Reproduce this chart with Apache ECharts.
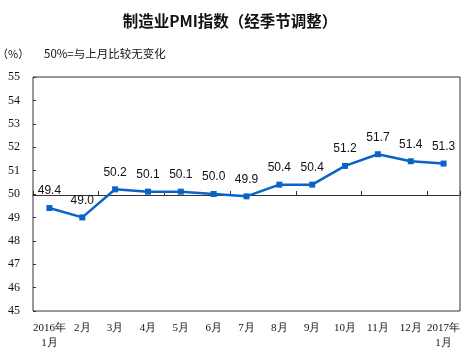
<!DOCTYPE html>
<html><head><meta charset="utf-8">
<script src="https://cdn.jsdelivr.net/npm/echarts@6/dist/echarts.min.js"></script>
<style>html,body{margin:0;padding:0;background:#fff}#c{width:474px;height:357px}</style>
</head><body><div id="c"></div>
<script>
const categories = ['2016年\n1月','2月','3月','4月','5月','6月','7月','8月','9月','10月','11月','12月','2017年\n1月'];
const pmiValues = [49.4, 49.0, 50.2, 50.1, 50.1, 50.0, 49.9, 50.4, 50.4, 51.2, 51.7, 51.4, 51.3];
const yTicks = [45,46,47,48,49,50,51,52,53,54,55];

const chart = echarts.init(document.getElementById('c'));
const gTop = 77, gH = 234, gLeft = 33, gRight = 14;
const y50 = gTop + gH * (55 - 50) / 10;
chart.setOption({
  animation: false,
  backgroundColor: '#fff',
  title: [
    { text: '制造业PMI指数（经季节调整）', left: 230, top: 13, textAlign: 'center', padding: 0,
      textStyle: { fontFamily: 'Noto Sans CJK SC', fontSize: 15.5, fontWeight: 'bold', color: '#111' } },
    { text: '（%）', left: -3, top: 48, padding: 0, textStyle: { fontFamily: 'Noto Sans CJK SC', fontSize: 11, fontWeight: 'normal', color: '#111' } },
    { text: '50%=与上月比较无变化', left: 44, top: 48, padding: 0, textStyle: { fontFamily: 'Noto Sans CJK SC', fontSize: 11.5, fontWeight: 'normal', color: '#111' } }
  ],
  grid: [
    { left: gLeft, right: gRight, top: gTop, height: gH, show: true, borderColor: '#333', borderWidth: 1 },
    { left: gLeft, right: gRight, top: y50, height: 1, show: false }
  ],
  xAxis: [
    { type: 'category', gridIndex: 0, data: categories, boundaryGap: true,
      axisLine: { show: false }, axisTick: { show: false },
      axisLabel: { fontFamily: 'Liberation Serif', fontSize: 11, color: '#111', margin: 10, interval: 0, lineHeight: 15 } },
    { type: 'category', gridIndex: 1, position: 'top', data: categories, boundaryGap: true,
      axisLine: { show: true, lineStyle: { color: '#333', width: 1 } },
      axisTick: { show: true, length: 4, lineStyle: { color: '#333' } },
      axisLabel: { show: false } }
  ],
  yAxis: [
    { type: 'value', gridIndex: 0, min: 45, max: 55, interval: 1,
      axisLine: { show: false }, splitLine: { show: false },
      axisTick: { show: true, inside: true, length: 3, lineStyle: { color: '#333' } },
      axisLabel: { fontFamily: 'Liberation Serif', fontSize: 12, color: '#111', margin: 13,
        formatter: v => yTicks.includes(v) ? String(v) : '' } },
    { type: 'value', gridIndex: 1, show: false }
  ],
  series: [{
    type: 'line', xAxisIndex: 0, yAxisIndex: 0, data: pmiValues,
    symbol: 'rect', symbolSize: 6,
    lineStyle: { color: '#0a64c8', width: 2.5 },
    itemStyle: { color: '#0a64c8' },
    label: { show: true, position: 'top', distance: 8, fontFamily: 'Liberation Sans', fontSize: 12, color: '#111',
      formatter: p => p.value.toFixed(1) }
  }]
});
</script></body></html>
